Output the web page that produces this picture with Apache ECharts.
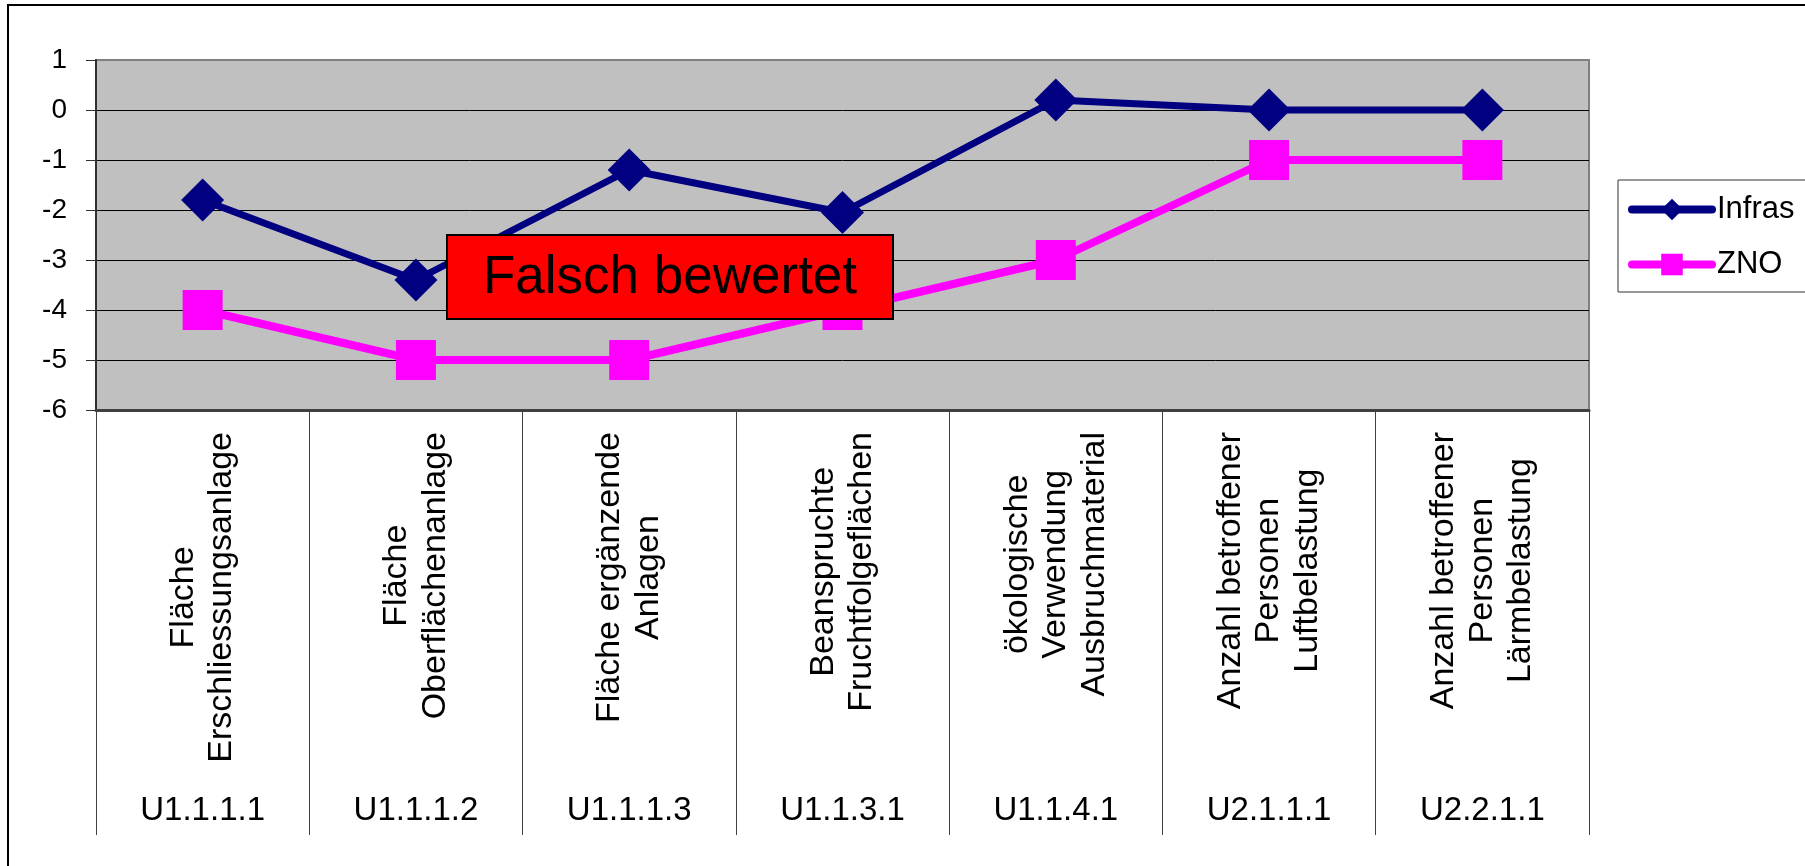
<!DOCTYPE html>
<html>
<head>
<meta charset="utf-8">
<script src="https://cdn.jsdelivr.net/npm/echarts@6/dist/echarts.min.js"></script>
<style>
html,body{margin:0;padding:0;background:#fff;}
#chart{width:1805px;height:866px;}
</style>
</head>
<body>
<div id="chart"></div>
<script>
const categories = [
  'Fläche\nErschliessungsanlage',
  'Fläche\nOberflächenanlage',
  'Fläche ergänzende\nAnlagen',
  'Beanspruchte\nFruchtfolgeflächen',
  'ökologische\nVerwendung\nAusbruchmaterial',
  'Anzahl betroffener\nPersonen\nLuftbelastung',
  'Anzahl betroffener\nPersonen\nLärmbelastung'
];
const codes = ['U1.1.1.1', 'U1.1.1.2', 'U1.1.1.3', 'U1.1.3.1', 'U1.1.4.1', 'U2.1.1.1', 'U2.2.1.1'];
const infras = [-1.8, -3.4, -1.2, -2.05, 0.2, 0, 0];
const zno = [-4, -5, -5, -4, -3, -1, -1];
const seriesNames = ['Infras', 'ZNO'];
const annotationText = 'Falsch bewertet';

const FONT = 'Liberation Sans, Arial, sans-serif';

// detect a narrow font for the legend
function hasFont(name) {
  const c = document.createElement('canvas').getContext('2d');
  c.font = '40px monospace';
  const w0 = c.measureText('Infras ZNO').width;
  c.font = '40px "' + name + '", monospace';
  return Math.abs(c.measureText('Infras ZNO').width - w0) > 0.5;
}
const narrow = hasFont('Liberation Sans Narrow');
const legendFont = narrow ? '"Liberation Sans Narrow"' : FONT;
const legendSize = narrow ? 36 : 31;

const chart = echarts.init(document.getElementById('chart'));
chart.setOption({
  animation: false,
  backgroundColor: '#fff',
  grid: {
    left: 96, right: 216, top: 60, bottom: 456,
    show: true, backgroundColor: '#C0C0C0', borderColor: '#808080', borderWidth: 2,
    containLabel: false, outerBoundsMode: 'none'
  },
  legend: {
    data: seriesNames,
    orient: 'vertical',
    left: 1618, top: 180,
    padding: [14, 11, 12, 10],
    itemWidth: 80, itemHeight: 27, itemGap: 24,
    backgroundColor: '#fff', borderColor: '#333', borderWidth: 1,
    lineStyle: { width: 8, cap: 'round' },
    textStyle: { fontSize: legendSize, lineHeight: 30, color: '#000', fontFamily: legendFont }
  },
  xAxis: [{
    type: 'category', data: categories, position: 'bottom', boundaryGap: true,
    axisLine: { onZero: false, lineStyle: { color: '#404040', width: 3 } },
    axisTick: { show: true, length: 425, lineStyle: { color: '#404040', width: 1 } },
    axisLabel: {
      interval: 0, rotate: 90, margin: 22,
      formatter: v => v.split('\n').map(s => '{c|' + s + '}').join('\n'),
      rich: { c: { fontSize: 34, lineHeight: 38.5, color: '#000', fontFamily: FONT, align: 'center' } }
    },
    splitLine: { show: false }
  }, {
    type: 'category', data: codes, position: 'bottom', boundaryGap: true,
    axisLine: { show: false, onZero: false },
    axisTick: { show: false },
    axisLabel: { interval: 0, margin: 384, fontSize: 33, lineHeight: 34, color: '#000', fontFamily: FONT },
    splitLine: { show: false }
  }],
  yAxis: {
    type: 'value', min: -6, max: 1, interval: 1,
    axisLine: { show: true, lineStyle: { color: '#303030', width: 2 } },
    axisTick: { show: true, length: 10, lineStyle: { color: '#303030', width: 1 } },
    axisLabel: { fontSize: 28, color: '#000', margin: 29, fontFamily: FONT },
    splitLine: { show: true, showMaxLine: false, lineStyle: { color: '#000', width: 1 } }
  },
  series: [{
    name: seriesNames[0], type: 'line', data: infras, xAxisIndex: 0,
    symbol: 'diamond', symbolSize: 43,
    lineStyle: { color: '#000080', width: 7 },
    itemStyle: { color: '#000080' }
  }, {
    name: seriesNames[1], type: 'line', data: zno, xAxisIndex: 0,
    symbol: 'rect', symbolSize: 40,
    lineStyle: { color: '#FF00FF', width: 8 },
    itemStyle: { color: '#FF00FF' }
  }],
  graphic: [
    { type: 'rect', shape: { x: 8, y: 5, width: 2000, height: 1000 }, style: { fill: 'none', stroke: '#000', lineWidth: 2 }, z: 1 },
    { type: 'rect', shape: { x: 447, y: 235, width: 446, height: 84 }, style: { fill: '#FF0000', stroke: '#000', lineWidth: 2 }, z: 100 },
    { type: 'text', x: 670, y: 278, style: { text: annotationText, fontSize: 53, fontFamily: FONT, fill: '#000', align: 'center', verticalAlign: 'middle' }, z: 101 }
  ]
});
</script>
</body>
</html>
